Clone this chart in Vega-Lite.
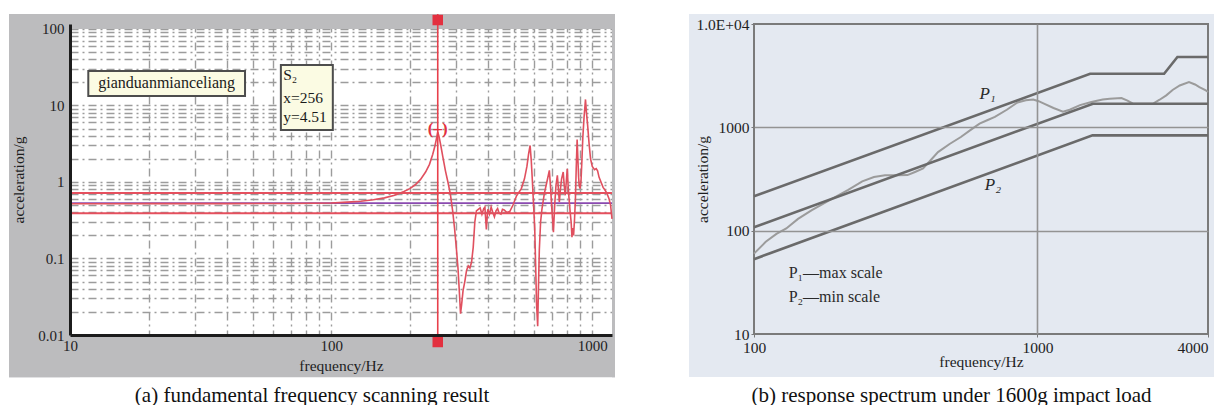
{
  "$schema": "https://vega.github.io/schema/vega-lite/v6.json",
  "background": "white",
  "padding": {"left": 9, "top": 12, "right": 0, "bottom": 0},
  "spacing": 72,
  "config": {
    "font": "Liberation Serif",
    "axis": {"labelFont": "Liberation Serif", "titleFont": "Liberation Serif", "labelColor": "#1e1e1e", "titleColor": "#1e1e1e", "titleFontWeight": "normal", "labelFontSize": 15, "titleFontSize": 15.5},
    "title": {"font": "Liberation Serif", "fontWeight": "normal", "fontSize": 21, "color": "#111111"},
    "text": {"font": "Liberation Serif"}
  },
  "datasets": {
    "aBands": [
      {"x": 5.84, "x2": 10, "y": 0.0028, "y2": 157},
      {"x": 1190, "x2": 1222, "y": 0.0028, "y2": 157},
      {"x": 5.84, "x2": 1222, "y": 100, "y2": 157},
      {"x": 5.84, "x2": 1222, "y": 0.0028, "y2": 0.01}
    ],
    "aRed": [{"v": 0.72}, {"v": 0.39}],
    "aMid": [{"v": 0.53}],
    "aCurve": [
      {"f": 10, "v": 0.52}, {"f": 15, "v": 0.52}, {"f": 20, "v": 0.521}, {"f": 30, "v": 0.521}, {"f": 40, "v": 0.522},
      {"f": 55, "v": 0.523}, {"f": 70, "v": 0.524}, {"f": 85, "v": 0.527}, {"f": 100, "v": 0.532}, {"f": 115, "v": 0.545},
      {"f": 130, "v": 0.56}, {"f": 145, "v": 0.585}, {"f": 160, "v": 0.62}, {"f": 175, "v": 0.67}, {"f": 190, "v": 0.75},
      {"f": 200, "v": 0.82}, {"f": 210, "v": 0.92}, {"f": 220, "v": 1.08}, {"f": 230, "v": 1.35}, {"f": 238, "v": 1.7},
      {"f": 245, "v": 2.3}, {"f": 250, "v": 3.0}, {"f": 254, "v": 3.9}, {"f": 256, "v": 4.51}, {"f": 259, "v": 3.9},
      {"f": 263, "v": 3.0}, {"f": 268, "v": 2.1}, {"f": 274, "v": 1.4}, {"f": 280, "v": 1.0}, {"f": 286, "v": 0.7},
      {"f": 292, "v": 0.42}, {"f": 297, "v": 0.245}, {"f": 302, "v": 0.13}, {"f": 306, "v": 0.075}, {"f": 310, "v": 0.035},
      {"f": 313, "v": 0.019}, {"f": 316, "v": 0.025}, {"f": 320, "v": 0.038}, {"f": 325, "v": 0.05}, {"f": 330, "v": 0.07},
      {"f": 335, "v": 0.08}, {"f": 340, "v": 0.075}, {"f": 345, "v": 0.09}, {"f": 350, "v": 0.14}, {"f": 355, "v": 0.3},
      {"f": 360, "v": 0.42}, {"f": 366, "v": 0.44}, {"f": 372, "v": 0.46}, {"f": 378, "v": 0.38}, {"f": 384, "v": 0.45},
      {"f": 388, "v": 0.47}, {"f": 393, "v": 0.24}, {"f": 398, "v": 0.44}, {"f": 404, "v": 0.38}, {"f": 410, "v": 0.47},
      {"f": 416, "v": 0.4}, {"f": 422, "v": 0.35}, {"f": 428, "v": 0.42}, {"f": 434, "v": 0.45}, {"f": 440, "v": 0.39},
      {"f": 447, "v": 0.38}, {"f": 453, "v": 0.44}, {"f": 460, "v": 0.43}, {"f": 470, "v": 0.4}, {"f": 483, "v": 0.41},
      {"f": 497, "v": 0.5}, {"f": 513, "v": 0.66}, {"f": 535, "v": 0.82}, {"f": 550, "v": 1.1}, {"f": 562, "v": 1.6},
      {"f": 570, "v": 2.3}, {"f": 578, "v": 3.0}, {"f": 584, "v": 1.9}, {"f": 590, "v": 1.0}, {"f": 596, "v": 0.5},
      {"f": 602, "v": 0.25}, {"f": 607, "v": 0.08}, {"f": 612, "v": 0.025}, {"f": 618, "v": 0.013}, {"f": 622, "v": 0.04},
      {"f": 627, "v": 0.13}, {"f": 634, "v": 0.3}, {"f": 642, "v": 0.45}, {"f": 655, "v": 0.7}, {"f": 670, "v": 1.0},
      {"f": 685, "v": 1.42}, {"f": 693, "v": 0.8}, {"f": 700, "v": 0.45}, {"f": 710, "v": 0.22}, {"f": 718, "v": 0.5},
      {"f": 726, "v": 0.9}, {"f": 735, "v": 1.22}, {"f": 742, "v": 0.8}, {"f": 748, "v": 0.55}, {"f": 755, "v": 0.8},
      {"f": 763, "v": 1.1}, {"f": 774, "v": 1.35}, {"f": 781, "v": 0.9}, {"f": 788, "v": 0.67}, {"f": 795, "v": 1.0},
      {"f": 802, "v": 1.49}, {"f": 808, "v": 0.9}, {"f": 815, "v": 0.6}, {"f": 822, "v": 0.42}, {"f": 830, "v": 0.3},
      {"f": 836, "v": 0.19}, {"f": 842, "v": 0.25}, {"f": 848, "v": 0.2}, {"f": 855, "v": 0.32}, {"f": 862, "v": 0.6},
      {"f": 868, "v": 1.5}, {"f": 875, "v": 3.6}, {"f": 880, "v": 2.2}, {"f": 886, "v": 1.2}, {"f": 891, "v": 0.9},
      {"f": 898, "v": 0.82}, {"f": 905, "v": 1.0}, {"f": 912, "v": 1.8}, {"f": 920, "v": 3.8}, {"f": 930, "v": 7},
      {"f": 942, "v": 12}, {"f": 950, "v": 8}, {"f": 960, "v": 5.5}, {"f": 972, "v": 3.2}, {"f": 985, "v": 2.0},
      {"f": 1000, "v": 1.6}, {"f": 1020, "v": 1.45}, {"f": 1035, "v": 1.5}, {"f": 1048, "v": 1.4}, {"f": 1062, "v": 1.15},
      {"f": 1080, "v": 1.0}, {"f": 1100, "v": 0.85}, {"f": 1120, "v": 0.78}, {"f": 1140, "v": 0.7}, {"f": 1160, "v": 0.6},
      {"f": 1175, "v": 0.5}, {"f": 1190, "v": 0.33}
    ],
    "aCursor": [{"f": 256, "lo": 0.007, "hi": 157}],
    "aMarks": [{"f": 256, "v": 131}, {"f": 256, "v": 0.0081}],
    "aPeak": [{"f": 256, "v": 4.9, "t": "(–)"}],
    "aBoxes": [
      {"x": 11.75, "x2": 46.8, "y": 13.3, "y2": 28.2},
      {"x": 64.2, "x2": 101.5, "y": 4.79, "y2": 33.8}
    ],
    "aLabel": [{"f": 23.45, "v": 19.4, "t": "gianduanmianceliang"}],
    "aCursorText": [
      {"f": 65.5, "v": 25.0, "t": "S₂"},
      {"f": 65.5, "v": 12.35, "t": "x=256"},
      {"f": 65.5, "v": 6.97, "t": "y=4.51"}
    ],
    "bBands": [
      {"x": 59, "x2": 99.2, "y": 3.84, "y2": 12500},
      {"x": 4032.6, "x2": 4200, "y": 3.84, "y2": 12500},
      {"x": 59, "x2": 4200, "y": 10225, "y2": 12500},
      {"x": 59, "x2": 4200, "y": 3.84, "y2": 9.78}
    ],
    "bSpec": [
      {"s": "P1", "f": 100, "v": 215}, {"s": "P1", "f": 1535, "v": 3300}, {"s": "P1", "f": 2800, "v": 3300}, {"s": "P1", "f": 3120, "v": 4800}, {"s": "P1", "f": 4000, "v": 4800},
      {"s": "M", "f": 100, "v": 108}, {"s": "M", "f": 1570, "v": 1694}, {"s": "M", "f": 4000, "v": 1694},
      {"s": "P2", "f": 100, "v": 53}, {"s": "P2", "f": 1565, "v": 836}, {"s": "P2", "f": 4000, "v": 836}
    ],
    "bResp": [
      {"f": 100, "v": 60}, {"f": 110, "v": 78}, {"f": 120, "v": 93}, {"f": 130, "v": 105}, {"f": 143, "v": 130},
      {"f": 160, "v": 158}, {"f": 189, "v": 204}, {"f": 215, "v": 248}, {"f": 241, "v": 300}, {"f": 265, "v": 330},
      {"f": 290, "v": 343}, {"f": 320, "v": 343}, {"f": 348, "v": 345}, {"f": 370, "v": 370}, {"f": 395, "v": 400},
      {"f": 420, "v": 480}, {"f": 446, "v": 576}, {"f": 490, "v": 690}, {"f": 537, "v": 806}, {"f": 580, "v": 940},
      {"f": 625, "v": 1085}, {"f": 665, "v": 1170}, {"f": 708, "v": 1260}, {"f": 780, "v": 1480}, {"f": 851, "v": 1740},
      {"f": 910, "v": 1830}, {"f": 967, "v": 1860}, {"f": 1010, "v": 1790}, {"f": 1055, "v": 1693}, {"f": 1140, "v": 1540},
      {"f": 1231, "v": 1420}, {"f": 1300, "v": 1480}, {"f": 1414, "v": 1640}, {"f": 1550, "v": 1760}, {"f": 1700, "v": 1860},
      {"f": 1800, "v": 1890}, {"f": 1980, "v": 1920}, {"f": 2080, "v": 1810}, {"f": 2175, "v": 1693}, {"f": 2400, "v": 1690},
      {"f": 2562, "v": 1700}, {"f": 2700, "v": 1850}, {"f": 2850, "v": 2040}, {"f": 3000, "v": 2300}, {"f": 3180, "v": 2540},
      {"f": 3427, "v": 2747}, {"f": 3600, "v": 2600}, {"f": 3730, "v": 2450}, {"f": 3930, "v": 2276}, {"f": 4000, "v": 2200}
    ],
    "bLab": [{"f": 667, "v": 2120, "t": "P₁"}, {"f": 697, "v": 274, "t": "P₂"}],
    "bLegend": [{"f": 132.5, "v": 38.9, "t": "P₁—max scale"}, {"f": 132.5, "v": 22.8, "t": "P₂—min scale"}]
  },
  "hconcat": [
    {
      "width": 542,
      "height": 311,
      "view": {"fill": "white", "stroke": null},
      "title": {"text": "(a) fundamental frequency scanning result", "orient": "bottom", "anchor": "middle", "frame": "bounds", "offset": 8},
      "layer": [
        {
          "data": {"name": "aBands"},
          "mark": {"type": "rect", "fill": "#bcbcbe", "opacity": 1},
          "encoding": {
            "x": {"field": "x", "type": "quantitative", "scale": {"type": "log", "domain": [10, 1190], "nice": false},
              "axis": {"orient": "bottom", "grid": true, "labels": false, "ticks": false, "domain": false, "title": null, "zindex": 0,
                "values": [10, 20, 30, 40, 50, 60, 70, 80, 90, 100, 200, 300, 400, 500, 600, 700, 800, 900, 1000],
                "gridColor": "#9c9c9c", "gridDash": [8, 4, 2, 4], "gridWidth": 1.4, "gridOpacity": 1}},
            "x2": {"field": "x2"},
            "y": {"field": "y", "type": "quantitative", "scale": {"type": "log", "domain": [0.01, 116.2], "nice": false},
              "axis": {"orient": "left", "grid": true, "labels": false, "ticks": false, "domain": false, "title": null, "zindex": 0,
                "values": [0.01, 0.02, 0.03, 0.04, 0.05, 0.06, 0.07, 0.08, 0.09, 0.1, 0.2, 0.3, 0.4, 0.5, 0.6, 0.7, 0.8, 0.9, 1, 2, 3, 4, 5, 6, 7, 8, 9, 10, 20, 30, 40, 50, 60, 70, 80, 90, 100],
                "gridColor": "#9c9c9c", "gridDash": [8, 4, 2, 4], "gridWidth": 1.4, "gridOpacity": 1}},
            "y2": {"field": "y2"}
          }
        },
        {
          "data": {"name": "aRed"},
          "mark": {"type": "rule", "color": "#e5505e", "strokeWidth": 2},
          "encoding": {"y": {"field": "v", "type": "quantitative", "scale": {"type": "log", "domain": [0.01, 116.2], "nice": false}, "axis": null}}
        },
        {
          "data": {"name": "aMid"},
          "mark": {"type": "rule", "color": "#8a4ab0", "strokeWidth": 1.6},
          "encoding": {"y": {"field": "v", "type": "quantitative", "scale": {"type": "log", "domain": [0.01, 116.2], "nice": false}, "axis": null}}
        },
        {
          "data": {"name": "aCurve"},
          "mark": {"type": "line", "color": "#e0505f", "strokeWidth": 1.6},
          "encoding": {
            "x": {"field": "f", "type": "quantitative", "scale": {"type": "log", "domain": [10, 1190], "nice": false},
              "axis": {"orient": "bottom", "values": [10, 100, 1000], "format": "d", "labelFlush": false, "labelOverlap": false, "grid": false,
                "ticks": false, "tickSize": 0, "labelPadding": 3, "domain": true, "domainColor": "#1c1c1c", "domainWidth": 3,
                "title": "frequency/Hz", "titlePadding": 5, "zindex": 1}},
            "y": {"field": "v", "type": "quantitative", "scale": {"type": "log", "domain": [0.01, 116.2], "nice": false},
              "axis": {"orient": "left", "values": [0.01, 0.1, 1, 10, 100], "format": "~g", "labelOverlap": false, "grid": false,
                "ticks": false, "tickSize": 0, "labelPadding": 6, "domain": true, "domainColor": "#1c1c1c", "domainWidth": 3,
                "title": "acceleration/g", "titlePadding": 11, "zindex": 1}}
          }
        },
        {
          "data": {"name": "aCursor"},
          "mark": {"type": "rule", "color": "#e8404c", "strokeWidth": 1.6},
          "encoding": {
            "x": {"field": "f", "type": "quantitative", "scale": {"type": "log", "domain": [10, 1190], "nice": false}, "axis": null},
            "y": {"field": "lo", "type": "quantitative", "scale": {"type": "log", "domain": [0.01, 116.2], "nice": false}, "axis": null},
            "y2": {"field": "hi"}
          }
        },
        {
          "data": {"name": "aMarks"},
          "mark": {"type": "square", "color": "#e3303f", "size": 110, "opacity": 1, "filled": true},
          "encoding": {
            "x": {"field": "f", "type": "quantitative", "scale": {"type": "log", "domain": [10, 1190], "nice": false}, "axis": null},
            "y": {"field": "v", "type": "quantitative", "scale": {"type": "log", "domain": [0.01, 116.2], "nice": false}, "axis": null}
          }
        },
        {
          "data": {"name": "aPeak"},
          "mark": {"type": "text", "color": "#e3303f", "fontSize": 17, "fontWeight": "bold", "align": "center", "baseline": "middle"},
          "encoding": {
            "x": {"field": "f", "type": "quantitative", "scale": {"type": "log", "domain": [10, 1190], "nice": false}, "axis": null},
            "y": {"field": "v", "type": "quantitative", "scale": {"type": "log", "domain": [0.01, 116.2], "nice": false}, "axis": null},
            "text": {"field": "t"}
          }
        },
        {
          "data": {"name": "aBoxes"},
          "mark": {"type": "rect", "fill": "#fbfbe3", "stroke": "#4d4d4d", "strokeWidth": 2, "opacity": 1},
          "encoding": {
            "x": {"field": "x", "type": "quantitative", "scale": {"type": "log", "domain": [10, 1190], "nice": false}, "axis": null},
            "x2": {"field": "x2"},
            "y": {"field": "y", "type": "quantitative", "scale": {"type": "log", "domain": [0.01, 116.2], "nice": false}, "axis": null},
            "y2": {"field": "y2"}
          }
        },
        {
          "data": {"name": "aLabel"},
          "mark": {"type": "text", "fontSize": 16, "align": "center", "baseline": "middle", "color": "#1a1a1a"},
          "encoding": {
            "x": {"field": "f", "type": "quantitative", "scale": {"type": "log", "domain": [10, 1190], "nice": false}, "axis": null},
            "y": {"field": "v", "type": "quantitative", "scale": {"type": "log", "domain": [0.01, 116.2], "nice": false}, "axis": null},
            "text": {"field": "t"}
          }
        },
        {
          "data": {"name": "aCursorText"},
          "mark": {"type": "text", "fontSize": 15.5, "align": "left", "baseline": "middle", "color": "#1a1a1a"},
          "encoding": {
            "x": {"field": "f", "type": "quantitative", "scale": {"type": "log", "domain": [10, 1190], "nice": false}, "axis": null},
            "y": {"field": "v", "type": "quantitative", "scale": {"type": "log", "domain": [0.01, 116.2], "nice": false}, "axis": null},
            "text": {"field": "t"}
          }
        }
      ],
      "resolve": {"axis": {"x": "independent", "y": "independent"}}
    },
    {
      "width": 454,
      "height": 310,
      "view": {"fill": "#e4e9f1", "stroke": "#7a7a7a", "strokeWidth": 2},
      "title": {"text": "(b) response spectrum under 1600g impact load", "orient": "bottom", "anchor": "middle", "frame": "bounds", "offset": 8},
      "layer": [
        {
          "data": {"name": "bBands"},
          "mark": {"type": "rect", "fill": "#e4e9f1", "opacity": 1},
          "encoding": {
            "x": {"field": "x", "type": "quantitative", "scale": {"type": "log", "domain": [100, 4000], "nice": false},
              "axis": {"orient": "bottom", "values": [100, 1000, 4000], "format": "d", "labelFlush": false, "labelOverlap": false,
                "labelAlign": {"condition": {"test": "datum.value >= 4000", "value": "right"}, "value": "center"},
                "grid": true, "gridColor": {"condition": {"test": "datum.value == 1000", "value": "#939393"}, "value": "transparent"}, "gridWidth": 1.6,
                "domain": false, "ticks": true, "tickSize": 3, "tickColor": "#7a7a7a", "labelPadding": 3, "labelFontSize": 15.5,
                "title": "frequency/Hz", "titlePadding": 0, "maxExtent": 20, "minExtent": 20, "zindex": 1}},
            "x2": {"field": "x2"},
            "y": {"field": "y", "type": "quantitative", "scale": {"type": "log", "domain": [10, 10000], "nice": false},
              "axis": {"orient": "left", "values": [10, 100, 1000, 10000], "format": "d", "labelOverlap": false,
                "labelExpr": "datum.value >= 10000 ? '1.0E+04' : datum.label",
                "grid": true, "gridColor": {"condition": {"test": "datum.value == 100 || datum.value == 1000", "value": "#939393"}, "value": "transparent"}, "gridWidth": 1.6,
                "domain": false, "ticks": true, "tickSize": 3, "tickColor": "#7a7a7a", "labelPadding": 2, "labelFontSize": 15.5,
                "title": "acceleration/g", "titlePadding": 8, "maxExtent": 36, "minExtent": 36, "zindex": 1}},
            "y2": {"field": "y2"}
          }
        },
        {
          "data": {"name": "bResp"},
          "mark": {"type": "line", "color": "#9b9b9b", "strokeWidth": 2},
          "encoding": {
            "x": {"field": "f", "type": "quantitative", "scale": {"type": "log", "domain": [100, 4000], "nice": false}},
            "y": {"field": "v", "type": "quantitative", "scale": {"type": "log", "domain": [10, 10000], "nice": false}}
          }
        },
        {
          "data": {"name": "bSpec"},
          "mark": {"type": "line", "color": "#6a6a6a", "strokeWidth": 2.6},
          "encoding": {
            "x": {"field": "f", "type": "quantitative", "scale": {"type": "log", "domain": [100, 4000], "nice": false}},
            "y": {"field": "v", "type": "quantitative", "scale": {"type": "log", "domain": [10, 10000], "nice": false}},
            "detail": {"field": "s", "type": "nominal"}
          }
        },
        {
          "data": {"name": "bLab"},
          "mark": {"type": "text", "fontSize": 17, "fontStyle": "italic", "align": "center", "baseline": "middle", "color": "#2a2a2a"},
          "encoding": {
            "x": {"field": "f", "type": "quantitative", "scale": {"type": "log", "domain": [100, 4000], "nice": false}},
            "y": {"field": "v", "type": "quantitative", "scale": {"type": "log", "domain": [10, 10000], "nice": false}},
            "text": {"field": "t"}
          }
        },
        {
          "data": {"name": "bLegend"},
          "mark": {"type": "text", "fontSize": 16, "align": "left", "baseline": "middle", "color": "#2a2a2a"},
          "encoding": {
            "x": {"field": "f", "type": "quantitative", "scale": {"type": "log", "domain": [100, 4000], "nice": false}},
            "y": {"field": "v", "type": "quantitative", "scale": {"type": "log", "domain": [10, 10000], "nice": false}},
            "text": {"field": "t"}
          }
        }
      ]
    }
  ]
}
